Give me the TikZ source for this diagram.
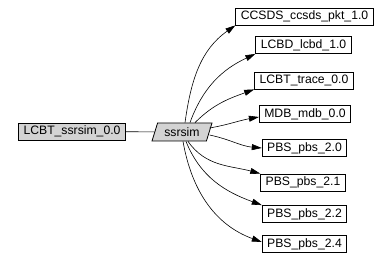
\documentclass[tikz,border=0pt]{standalone}
\usepackage{fontspec}
\setmainfont{Liberation Sans}
\usetikzlibrary{shapes.geometric, arrows.meta, positioning}
\definecolor{nodegray}{RGB}{211,211,211}

\begin{document}
\begin{tikzpicture}[
    x=1pt, y=-1pt,
    pkg/.style={draw, line width=0.8pt, fill=white, minimum height=17pt, inner xsep=5pt, inner ysep=1pt, font=\fontsize{12.2}{14}\selectfont},
    comp/.style={draw, line width=0.8pt, fill=nodegray, trapezium, trapezium left angle=63, trapezium right angle=117, trapezium stretches body, minimum width=60pt, minimum height=18pt, inner xsep=2pt, inner ysep=1pt, font=\fontsize{12.2}{14}\selectfont},
    dep/.style={-{Triangle[length=10pt,width=6pt]}, line width=0.6pt}
]
\useasboundingbox (0,0) rectangle (388,264);

\node[pkg, fill=nodegray] (top) at (72,131.5) {LCBT\_ssrsim\_0.0};
\node[comp] (ssrsim) at (182,132) {ssrsim};

\node[pkg] (ccsds) at (304.5,16.5) {CCSDS\_ccsds\_pkt\_1.0};
\node[pkg] (lcbd) at (303.5,45) {LCBD\_lcbd\_1.0};
\node[pkg] (trace) at (304,80.5) {LCBT\_trace\_0.0};
\node[pkg] (mdb) at (305,114) {MDB\_mdb\_0.0};
\node[pkg] (pbs20) at (304.5,148) {PBS\_pbs\_2.0};
\node[pkg] (pbs21) at (303,182.5) {PBS\_pbs\_2.1};
\node[pkg] (pbs22) at (304.5,214) {PBS\_pbs\_2.2};
\node[pkg] (pbs24) at (304.5,244) {PBS\_pbs\_2.4};

\draw[line width=0.6pt] (top) -- (ssrsim);

\draw[dep] ([xshift=3pt]ssrsim.north) to[out=82,in=215] (ccsds.south west);
\draw[dep] ([xshift=8pt]ssrsim.north) to[out=70,in=205] (lcbd.south west);
\draw[dep] ([xshift=13pt]ssrsim.north) to[out=45,in=200] (trace.south west);
\draw[dep] ([yshift=4pt]ssrsim.east) to[out=10,in=190] ([yshift=-3pt]mdb.west);
\draw[dep] ([yshift=-3pt]ssrsim.east) to[out=-12,in=175] (pbs20.west);
\draw[dep] ([xshift=6pt]ssrsim.south) to[out=-55,in=165] (pbs21.north west);
\draw[dep] ([xshift=4pt]ssrsim.south) to[out=-68,in=160] (pbs22.north west);
\draw[dep] ([xshift=1pt]ssrsim.south) to[out=-80,in=160] ([yshift=2pt]pbs24.west);
\end{tikzpicture}
\end{document}
